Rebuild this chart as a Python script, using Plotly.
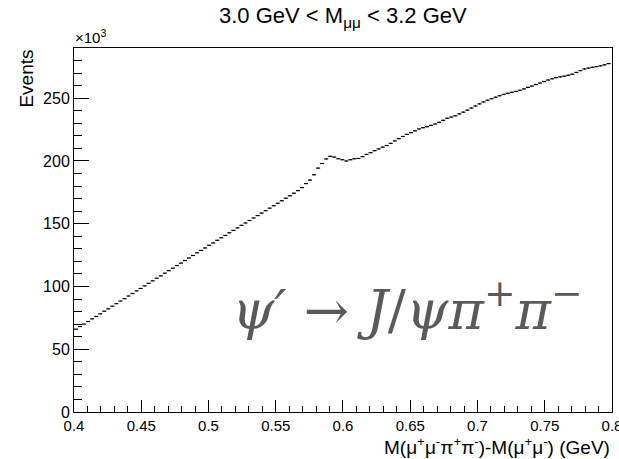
import numpy as np
import plotly.graph_objects as go

# Histogram: M(mu mu pi pi) - M(mu mu), bin width 0.003 GeV, starting at 0.400 GeV
bin_lo = 0.400
bin_width = 0.003
# Events per bin (in units of 10^3)
events_k = [
    66.0, 68.1, 70.0, 72.1, 74.2, 76.1, 78.2, 80.3, 82.2, 84.3,
    86.3, 88.4, 90.3, 92.4, 94.4, 96.5, 98.4, 100.5, 102.5, 104.5,
    106.6, 108.5, 110.6, 112.6, 114.6, 116.7, 118.6, 120.7, 122.7, 124.7,
    126.8, 128.7, 130.7, 132.8, 134.7, 136.8, 138.8, 140.7, 142.8, 144.7,
    146.7, 148.7, 150.6, 152.6, 154.6, 156.5, 158.5, 160.4, 162.4, 164.4,
    166.3, 168.3, 170.3, 172.3, 174.3, 176.4, 178.8, 182.0, 184.8, 189.0,
    194.3, 198.0, 201.6, 203.7, 203.1, 201.8, 201.0, 200.0, 201.0, 201.8,
    202.0, 203.5, 205.2, 206.6, 208.2, 209.6, 211.0, 212.3, 214.0, 216.0,
    217.8, 219.5, 221.2, 222.6, 224.0, 225.5, 226.5, 227.3, 228.3, 229.4,
    230.8, 232.4, 234.0, 235.0, 236.0, 237.5, 238.9, 240.5, 242.2, 243.8,
    245.5, 247.0, 248.4, 249.6, 250.8, 252.0, 253.0, 253.9, 254.7, 255.4,
    256.3, 257.4, 258.6, 259.7, 260.9, 262.1, 263.3, 264.5, 265.5, 266.4,
    267.0, 267.6, 268.3, 269.1, 270.5, 272.0, 273.3, 274.0, 274.6, 275.2,
    275.8, 276.6, 277.6,
]

x_tick_vals = [0.4, 0.45, 0.5, 0.55, 0.6, 0.65, 0.7, 0.75, 0.8]
x_tick_text = ["0.4", "0.45", "0.5", "0.55", "0.6", "0.65", "0.7", "0.75", "0.8"]
y_tick_vals = [0, 50, 100, 150, 200, 250]
y_tick_text = ["0", "50", "100", "150", "200", "250"]

n = len(events_k)
centers = bin_lo + bin_width * (np.arange(n) + 0.5)
vals = np.array(events_k)
yerr = np.sqrt(vals * 1000.0) / 1000.0

fig = go.Figure()
fig.add_trace(go.Scatter(
    x=centers, y=vals, mode="markers",
    marker=dict(size=1, color="black", opacity=0),
    error_x=dict(type="constant", value=bin_width / 2, width=0, thickness=1.2, color="black"),
    error_y=dict(type="data", array=yerr, width=0, thickness=1, color="black"),
    showlegend=False, hoverinfo="skip",
))

font_main = "Liberation Sans, Arial, Helvetica, sans-serif"

fig.update_layout(
    width=619, height=459,
    margin=dict(l=74, r=7, t=48, b=47, autoexpand=False),
    paper_bgcolor="white", plot_bgcolor="white",
    font=dict(family=font_main, color="black"),
    xaxis=dict(
        range=[0.4, 0.80001], showgrid=False, zeroline=False, automargin=False,
        showline=True, linecolor="black", linewidth=1, mirror=True,
        ticks="inside", ticklen=12, tickcolor="black", tickwidth=1,
        tickvals=x_tick_vals, ticktext=x_tick_text, ticklabeloverflow="allow",
        tickfont=dict(size=15, family=font_main),
        minor=dict(ticks="inside", ticklen=6, dtick=0.01, tickcolor="black", tickwidth=1, showgrid=False),
    ),
    yaxis=dict(
        range=[0, 290], showgrid=False, zeroline=False, automargin=False,
        showline=True, linecolor="black", linewidth=1, mirror=True,
        ticks="inside", ticklen=15, tickcolor="black", tickwidth=1,
        tickvals=y_tick_vals, ticktext=y_tick_text,
        tickfont=dict(size=16, family=font_main),
        minor=dict(ticks="inside", ticklen=8, dtick=10, tickcolor="black", tickwidth=1, showgrid=False),
    ),
)

fig.add_annotation(xref="paper", yref="paper", x=0.5, y=1.085, xanchor="center", yanchor="middle",
                   text="3.0 GeV &lt; M<sub>μμ</sub> &lt; 3.2 GeV", showarrow=False,
                   font=dict(size=22, family=font_main))
fig.add_annotation(xref="paper", yref="paper", x=1.0, y=-0.056, xanchor="right", yanchor="top",
                   text="M(μ<sup>+</sup>μ<sup>-</sup>π<sup>+</sup>π<sup>-</sup>)-M(μ<sup>+</sup>μ<sup>-</sup>) (GeV)",
                   showarrow=False, font=dict(size=19, family=font_main))
fig.add_annotation(xref="paper", yref="paper", x=-0.09, y=1.0, xanchor="center", yanchor="top",
                   text="Events", textangle=-90, showarrow=False,
                   font=dict(size=19, family=font_main))
fig.add_annotation(xref="paper", yref="paper", x=-0.002, y=1.0, xanchor="left", yanchor="bottom",
                   text="×10<sup>3</sup>", showarrow=False, font=dict(size=15, family=font_main))
fig.add_annotation(xref="x", yref="y", x=0.648, y=84, xanchor="center", yanchor="middle",
                   text="<i>ψ′</i> → <i>J</i>/<i>ψπ</i><sup>+</sup><i>π</i><sup>−</sup>",
                   showarrow=False, font=dict(size=54, family="DejaVu Serif, serif", color="#5a5a5a"))

fig.write_html("out.html")
